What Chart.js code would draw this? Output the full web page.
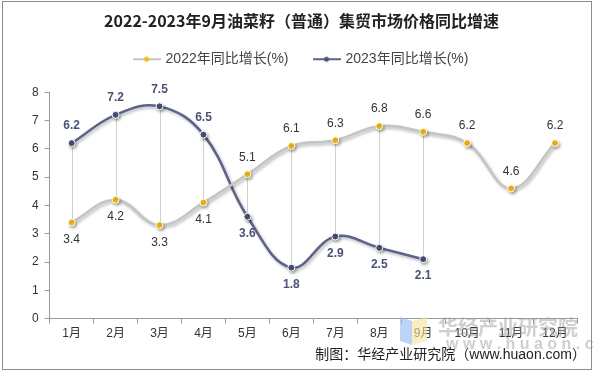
<!DOCTYPE html>
<html>
<head>
<meta charset="utf-8">
<script src="https://cdn.jsdelivr.net/npm/chart.js@4.4.1/dist/chart.umd.min.js"></script>
<style>
  html, body { margin: 0; padding: 0; background: #fff; }
  #box { width: 597px; height: 374px; }
</style>
</head>
<body>
<div id="box"><canvas id="chart" width="597" height="374"></canvas></div>
<script>
const months = ["1月", "2月", "3月", "4月", "5月", "6月", "7月", "8月", "9月", "10月", "11月", "12月"];
const growth2022 = [3.4, 4.2, 3.3, 4.1, 5.1, 6.1, 6.3, 6.8, 6.6, 6.2, 4.6, 6.2];
const growth2023 = [6.2, 7.2, 7.5, 6.5, 3.6, 1.8, 2.9, 2.5, 2.1, null, null, null];
const yTicks = [0, 1, 2, 3, 4, 5, 6, 7, 8];

const FONT = "'Liberation Sans', 'Noto Sans CJK SC', sans-serif";
const line22 = "#c4c4c4", dot22 = "#f5b914";
const line23 = "#5b6488", dot23 = "#4a5276";

// little line-with-dot icons for the legend
function legendIcon(lineColor, dotColor) {
  const c = document.createElement("canvas");
  c.width = 28; c.height = 10;
  const g = c.getContext("2d");
  g.strokeStyle = lineColor; g.lineWidth = 2;
  g.beginPath(); g.moveTo(0, 5); g.lineTo(28, 5); g.stroke();
  g.fillStyle = dotColor;
  g.beginPath(); g.arc(14, 5, 2.5, 0, Math.PI * 2); g.fill();
  return c;
}

// extra room under the legend
const legendGap = {
  id: "legendGap",
  beforeLayout(chart) {
    const lg = chart.legend;
    if (!lg || lg._gapPatched) return;
    const fit = lg.fit;
    lg.fit = function () { fit.call(this); this.height += 16; };
    lg._gapPatched = true;
  }
};

// thin vertical lines joining the two series
const dropLines = {
  id: "dropLines",
  beforeDatasetsDraw(chart) {
    const a = chart.getDatasetMeta(0).data, b = chart.getDatasetMeta(1).data;
    const ctx = chart.ctx;
    ctx.save();
    ctx.strokeStyle = "#d0d0d0"; ctx.lineWidth = 1;
    for (let i = 0; i < a.length; i++) {
      if (growth2023[i] == null || growth2022[i] == null) continue;
      const x = Math.round(a[i].x) + 0.5;
      ctx.beginPath(); ctx.moveTo(x, a[i].y); ctx.lineTo(x, b[i].y); ctx.stroke();
    }
    ctx.restore();
  }
};

// soft shadow under the lines
const lineShadow = {
  id: "lineShadow",
  beforeDatasetDraw(chart) {
    const ctx = chart.ctx;
    ctx.save();
    ctx.shadowColor = "rgba(0,0,0,0.28)";
    ctx.shadowBlur = 3; ctx.shadowOffsetX = 1.5; ctx.shadowOffsetY = 2;
  },
  afterDatasetDraw(chart) { chart.ctx.restore(); }
};

// value labels, above the higher series, below the lower
const valueLabels = {
  id: "valueLabels",
  afterDatasetsDraw(chart) {
    const ctx = chart.ctx;
    ctx.save();
    ctx.textAlign = "center"; ctx.textBaseline = "middle";
    [[0, growth2022, growth2023], [1, growth2023, growth2022]].forEach(([di, mine, other]) => {
      const pts = chart.getDatasetMeta(di).data;
      ctx.font = di === 1 ? "bold 12px " + FONT : "12px " + FONT;
      ctx.fillStyle = di === 1 ? "#4a5276" : "#333";
      mine.forEach((v, i) => {
        if (v == null) return;
        const up = other[i] == null || v >= other[i];
        ctx.fillText(v.toFixed(1), pts[i].x, pts[i].y + (up ? -17 : 17));
      });
    });
    ctx.restore();
  }
};

// frame, watermark and source line
const decor = {
  id: "decor",
  afterDraw(chart) {
    const ctx = chart.ctx;
    ctx.save();
    ctx.globalAlpha = 0.6;
    ctx.fillStyle = "#8fb8ef";
    ctx.beginPath(); ctx.moveTo(400, 317); ctx.lineTo(412, 321); ctx.lineTo(412, 345); ctx.lineTo(400, 341); ctx.fill();
    ctx.fillStyle = "#f7e29a";
    ctx.beginPath(); ctx.moveTo(412, 321); ctx.lineTo(427, 317); ctx.lineTo(427, 341); ctx.lineTo(412, 345); ctx.fill();
    ctx.globalAlpha = 0.5;
    ctx.fillStyle = "#a0a0a0";
    ctx.textAlign = "left"; ctx.textBaseline = "middle";
    ctx.font = "bold 20px 'Noto Sans CJK SC'";
    ctx.fillText("华经产业研究院", 438, 327);
    ctx.font = "bold 16px " + FONT;
    ctx.fillText("w w w . h u a o n . c o m", 446, 345);
    ctx.globalAlpha = 1;
    ctx.fillStyle = "#222";
    ctx.textAlign = "right";
    ctx.font = "14px " + FONT;
    ctx.fillText("制图：华经产业研究院（www.huaon.com）", 586, 355);
    ctx.strokeStyle = "#8c8c8c"; ctx.lineWidth = 1;
    ctx.strokeRect(2.5, 1.5, 589, 368);
    ctx.restore();
  }
};

new Chart(document.getElementById("chart"), {
  type: "line",
  data: {
    labels: months,
    datasets: [
      {
        label: "2022年同比增长(%)",
        data: growth2022,
        borderColor: line22, borderWidth: 2.5,
        backgroundColor: dot22,
        pointBackgroundColor: dot22, pointBorderColor: "#fff", pointBorderWidth: 1,
        pointRadius: 3.5, tension: 0.4
      },
      {
        label: "2023年同比增长(%)",
        data: growth2023,
        borderColor: line23, borderWidth: 2.5,
        backgroundColor: dot23,
        pointBackgroundColor: dot23, pointBorderColor: "#fff", pointBorderWidth: 1,
        pointRadius: 3.5, tension: 0.4
      }
    ]
  },
  options: {
    responsive: false,
    animation: false,
    layout: { padding: { left: 26, right: 20, top: 0, bottom: 30 } },
    plugins: {
      title: {
        display: true,
        text: "2022-2023年9月油菜籽（普通）集贸市场价格同比增速",
        color: "#222",
        font: { family: "'Noto Sans CJK SC'", size: 16, weight: "bold" },
        padding: { top: 11, bottom: -4 }
      },
      legend: {
        labels: {
          usePointStyle: true,
          pointStyleWidth: 24,
          color: "#444",
          font: { family: FONT, size: 14 },
          padding: 26,
          generateLabels(chart) {
            return chart.data.datasets.map((d, i) => ({
              text: d.label,
              fillStyle: d.backgroundColor,
              strokeStyle: d.borderColor,
              fontColor: "#444",
              pointStyle: i === 0 ? legendIcon(line22, dot22) : legendIcon(line23, dot23),
              datasetIndex: i
            }));
          }
        }
      },
      tooltip: { enabled: false }
    },
    scales: {
      x: {
        offset: true,
        grid: { display: true, drawOnChartArea: false, offset: true, color: "#999", tickLength: 5 },
        border: { color: "#999" },
        ticks: { color: "#333", font: { family: FONT, size: 12 }, padding: 3 }
      },
      y: {
        min: 0, max: 8,
        afterBuildTicks(axis) { axis.ticks = yTicks.map(v => ({ value: v })); },
        grid: { display: true, drawOnChartArea: false, color: "#999", tickLength: 5 },
        border: { color: "#999" },
        ticks: { color: "#333", font: { family: FONT, size: 12 }, padding: 6 }
      }
    }
  },
  plugins: [legendGap, dropLines, lineShadow, valueLabels, decor]
});
</script>
</body>
</html>
